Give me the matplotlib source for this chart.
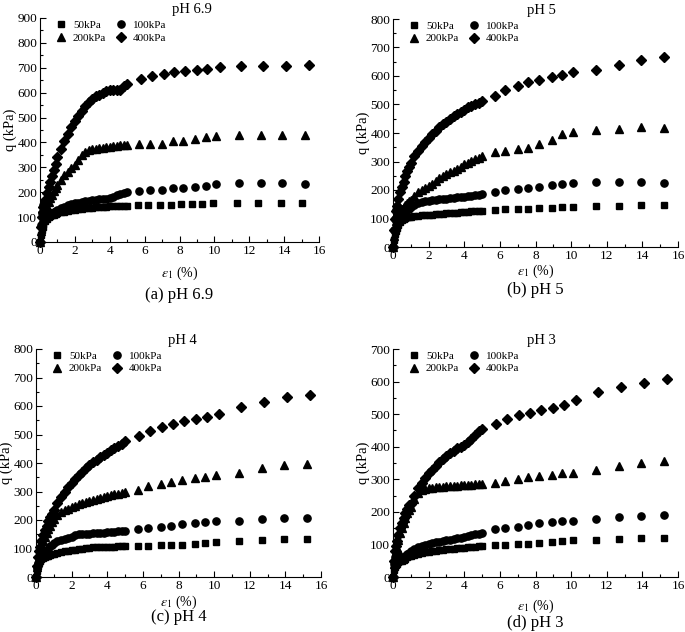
import matplotlib
matplotlib.use("Agg")
import matplotlib.pyplot as plt
from matplotlib.ticker import MultipleLocator

plt.rcParams['font.family'] = ['Liberation Serif', 'DejaVu Serif']
plt.rcParams['mathtext.fontset'] = 'stix'

# strain (%) - dense part shared by all specimens, then the sparse tail
EPS_DENSE = [0, 0.05, 0.1, 0.15, 0.2, 0.3, 0.4, 0.5, 0.6, 0.7, 0.8, 0.9, 1.0,
             1.2, 1.4, 1.6, 1.8, 2.0, 2.2, 2.4, 2.6, 2.8, 3.0, 3.2, 3.4, 3.6,
             3.8, 4.0, 4.2, 4.4, 4.6, 4.8, 5.0]
EPS_TAIL = [5.7, 6.3, 7.0, 7.6, 8.2, 8.9, 9.5, 10.1, 11.4, 12.7, 13.9, 15.2]
EPS_TAIL_SHORT = [5.6, 6.2, 6.9, 7.5, 8.1, 8.7, 9.3, 9.9, 11.3, 12.5, 13.8, 15.0]
EPS_TAIL_LONG = [5.8, 6.4, 7.1, 7.7, 8.3, 9.0, 9.6, 10.3, 11.5, 12.8, 14.1, 15.4]

confining = ['50kPa', '100kPa', '200kPa', '400kPa']
panel_titles = ['pH 6.9', 'pH 5', 'pH 4', 'pH 3']
captions = ['(a) pH 6.9', '(b) pH 5', '(c) pH 4', '(d) pH 3']
y_max = [900, 800, 800, 700]

# deviator stress q (kPa), pH 6.9
q69_50 = [0, 30, 50, 62, 72, 85, 94, 100, 104, 107, 110, 112, 115, 119, 122, 125, 127,
          129, 131, 133, 135, 136, 138, 139, 140, 141, 142, 143, 143, 144, 144, 145, 145]
q69_50_tail = [147, 147, 149, 150, 151, 152, 153, 155, 157, 156, 156, 155]
q69_100 = [0, 70, 115, 140, 150, 140, 125, 117, 115, 117, 120, 123, 127, 135, 142, 147, 151,
           155, 158, 161, 163, 165, 168, 170, 171, 172, 174, 178, 182, 187, 192, 196, 200]
q69_100_tail = [203, 207, 210, 215, 218, 222, 227, 235, 236, 237, 236, 234]
q69_200 = [0, 45, 75, 95, 110, 130, 145, 160, 175, 190, 205, 218, 230, 250, 268, 282, 297,
           310, 330, 350, 362, 368, 372, 375, 377, 379, 381, 383, 384, 386, 388, 389, 390]
q69_200_tail = [392, 393, 395, 405, 407, 415, 420, 427, 428, 430, 430, 428]
q69_400 = [0, 60, 100, 120, 140, 170, 195, 220, 240, 265, 290, 315, 340, 375, 405, 435, 462,
           485, 505, 525, 545, 562, 575, 585, 592, 600, 605, 610, 612, 610, 612, 625, 635]
q69_400_tail = [653, 665, 675, 683, 687, 690, 695, 705, 707, 708, 708, 712]

# pH 5
q5_50 = [0, 25, 45, 57, 65, 78, 87, 93, 98, 101, 104, 106, 107, 109, 110, 111, 112,
         113, 114, 115, 116, 117, 118, 119, 120, 121, 122, 123, 124, 125, 126, 127, 128]
q5_50_tail = [130, 132, 132, 135, 137, 138, 142, 142, 143, 145, 146, 148]
q5_100 = [0, 60, 100, 130, 145, 135, 120, 115, 118, 124, 130, 135, 140, 148, 153, 157, 160,
          162, 164, 166, 167, 168, 170, 171, 172, 174, 175, 177, 178, 180, 181, 183, 185]
q5_100_tail = [192, 200, 205, 208, 212, 218, 222, 225, 228, 228, 227, 226]
q5_200 = [0, 40, 70, 90, 105, 118, 126, 133, 140, 148, 155, 160, 165, 180, 192, 200, 207,
          214, 222, 232, 242, 250, 256, 262, 268, 275, 282, 290, 296, 302, 308, 314, 320]
q5_200_tail = [332, 338, 345, 348, 360, 375, 395, 402, 410, 415, 420, 418]
q5_400 = [0, 60, 100, 125, 145, 170, 192, 210, 228, 248, 265, 280, 295, 318, 338, 355, 370,
          383, 396, 408, 420, 430, 440, 450, 458, 466, 474, 482, 490, 495, 500, 505, 512]
q5_400_tail = [530, 550, 565, 580, 585, 598, 605, 615, 620, 640, 655, 665]

# pH 4
q4_50 = [0, 20, 40, 50, 55, 63, 67, 70, 72, 74, 77, 80, 82, 85, 88, 90, 92,
         94, 96, 98, 100, 101, 103, 104, 105, 105, 106, 106, 107, 107, 108, 108, 108]
q4_50_tail = [108, 110, 111, 112, 113, 116, 118, 122, 125, 130, 132, 135]
q4_100 = [0, 30, 50, 62, 70, 78, 82, 85, 92, 100, 108, 113, 118, 125, 130, 134, 138,
          142, 146, 150, 150, 151, 152, 153, 154, 155, 156, 157, 158, 159, 160, 161, 162]
q4_100_tail = [167, 172, 177, 180, 185, 188, 192, 197, 198, 202, 207, 208]
q4_200 = [0, 35, 60, 78, 90, 110, 125, 140, 155, 168, 180, 193, 205, 218, 228, 235, 240,
          245, 250, 255, 259, 263, 267, 271, 275, 278, 282, 285, 288, 290, 292, 295, 297]
q4_200_tail = [305, 318, 325, 335, 342, 348, 352, 358, 365, 382, 393, 398]
q4_400 = [0, 40, 70, 90, 105, 128, 148, 165, 180, 195, 210, 222, 235, 258, 280, 298, 315,
          330, 345, 358, 370, 382, 393, 403, 412, 420, 428, 436, 445, 452, 460, 468, 477]
q4_400_tail = [495, 512, 525, 537, 547, 555, 562, 573, 597, 613, 630, 638]

# pH 3
q3_50 = [0, 20, 30, 36, 40, 45, 48, 50, 53, 56, 60, 63, 65, 69, 72, 75, 77,
         78, 80, 81, 82, 83, 85, 86, 87, 88, 89, 90, 91, 92, 93, 94, 95]
q3_50_tail = [97, 98, 100, 102, 105, 108, 110, 113, 115, 117, 119, 120]
q3_100 = [0, 40, 60, 72, 78, 72, 62, 58, 60, 65, 70, 75, 80, 86, 92, 96, 98,
          100, 103, 106, 108, 110, 113, 115, 117, 119, 121, 124, 127, 129, 131, 133, 135]
q3_100_tail = [147, 150, 155, 160, 165, 168, 172, 173, 178, 183, 186, 189]
q3_200 = [0, 40, 60, 75, 90, 115, 135, 150, 165, 180, 195, 205, 215, 240, 258, 266, 270,
          272, 274, 275, 276, 277, 278, 279, 280, 280, 281, 282, 282, 283, 284, 284, 285]
q3_200_tail = [290, 295, 300, 307, 310, 313, 318, 320, 330, 340, 350, 357]
q3_400 = [0, 50, 80, 95, 110, 130, 150, 165, 180, 195, 210, 222, 225, 250, 272, 290, 305,
          318, 330, 342, 352, 362, 372, 380, 388, 395, 400, 405, 415, 425, 435, 447, 455]
q3_400_tail = [470, 485, 497, 505, 513, 520, 528, 542, 567, 583, 597, 608]

panels = [
    [(q69_50, q69_50_tail, EPS_TAIL_SHORT), (q69_100, q69_100_tail, EPS_TAIL),
     (q69_200, q69_200_tail, EPS_TAIL), (q69_400, q69_400_tail, EPS_TAIL_LONG)],
    [(q5_50, q5_50_tail, EPS_TAIL), (q5_100, q5_100_tail, EPS_TAIL),
     (q5_200, q5_200_tail, EPS_TAIL), (q5_400, q5_400_tail, EPS_TAIL)],
    [(q4_50, q4_50_tail, EPS_TAIL), (q4_100, q4_100_tail, EPS_TAIL),
     (q4_200, q4_200_tail, EPS_TAIL), (q4_400, q4_400_tail, EPS_TAIL_LONG)],
    [(q3_50, q3_50_tail, EPS_TAIL), (q3_100, q3_100_tail, EPS_TAIL),
     (q3_200, q3_200_tail, EPS_TAIL), (q3_400, q3_400_tail, EPS_TAIL_LONG)],
]

markers = ['s', 'o', '^', 'D']
msizes = [4.8, 5.2, 5.3, 4.6]

W, H = 685, 632
# axes boxes in pixels: left, right, top, bottom
boxes = [(40, 319, 18, 242), (393, 678, 19, 247),
         (36, 321, 349, 577), (393, 678, 349, 577)]
title_x = [0.545, 0.52, 0.515, 0.52]
# distance (px) of x-label and caption centres below the axis line
xlabel_dy = [31, 24, 25, 29]
caption_dy = [53, 43, 40, 46]

fig = plt.figure(figsize=(W / 100, H / 100), dpi=100)

for i, (l, r, t, b) in enumerate(boxes):
    ax = fig.add_axes([l / W, 1 - b / H, (r - l) / W, (b - t) / H])
    handles = []
    for j, (q_dense, q_tail, eps_tail) in enumerate(panels[i]):
        h, = ax.plot(EPS_DENSE + eps_tail, q_dense + q_tail, linestyle='none',
                     marker=markers[j], ms=msizes[j], color='black',
                     label=confining[j], clip_on=False)
        handles.append(h)

    ax.set_xlim(0, 16)
    ax.set_ylim(0, y_max[i])
    ax.xaxis.set_major_locator(MultipleLocator(2))
    ax.xaxis.set_minor_locator(MultipleLocator(1))
    ax.yaxis.set_major_locator(MultipleLocator(100))
    ax.yaxis.set_minor_locator(MultipleLocator(50))
    ax.tick_params(which='both', direction='in', labelsize=9.5, pad=2, width=0.8)
    ax.tick_params(which='major', length=4)
    ax.tick_params(which='minor', length=2)
    for s in ['top', 'right']:
        ax.spines[s].set_visible(False)
    for s in ['left', 'bottom']:
        ax.spines[s].set_linewidth(0.8)

    ax.set_ylabel('q (kPa)', fontsize=10.5, labelpad=0)
    ax.annotate(r'$\varepsilon_1$ (%)', xy=(0.5, 0), xycoords='axes fraction',
                xytext=(0, -xlabel_dy[i] * 0.72), textcoords='offset points',
                ha='center', va='center', fontsize=10)
    ax.text(title_x[i], 1.01, panel_titles[i], transform=ax.transAxes,
            ha='center', va='bottom', fontsize=10.5)
    ax.annotate(captions[i], xy=(0.5, 0), xycoords='axes fraction',
                xytext=(0, -caption_dy[i] * 0.72), textcoords='offset points',
                ha='center', va='center', fontsize=12)

    order = [0, 2, 1, 3]
    ax.legend([handles[k] for k in order], [confining[k] for k in order],
              ncol=2, loc='upper left', bbox_to_anchor=(0.03, 1.02),
              frameon=False, fontsize=8, handlelength=1.0, handletextpad=0.6,
              columnspacing=0.8, labelspacing=0.25, borderaxespad=0.2)

fig.savefig('out.png', dpi=100)
